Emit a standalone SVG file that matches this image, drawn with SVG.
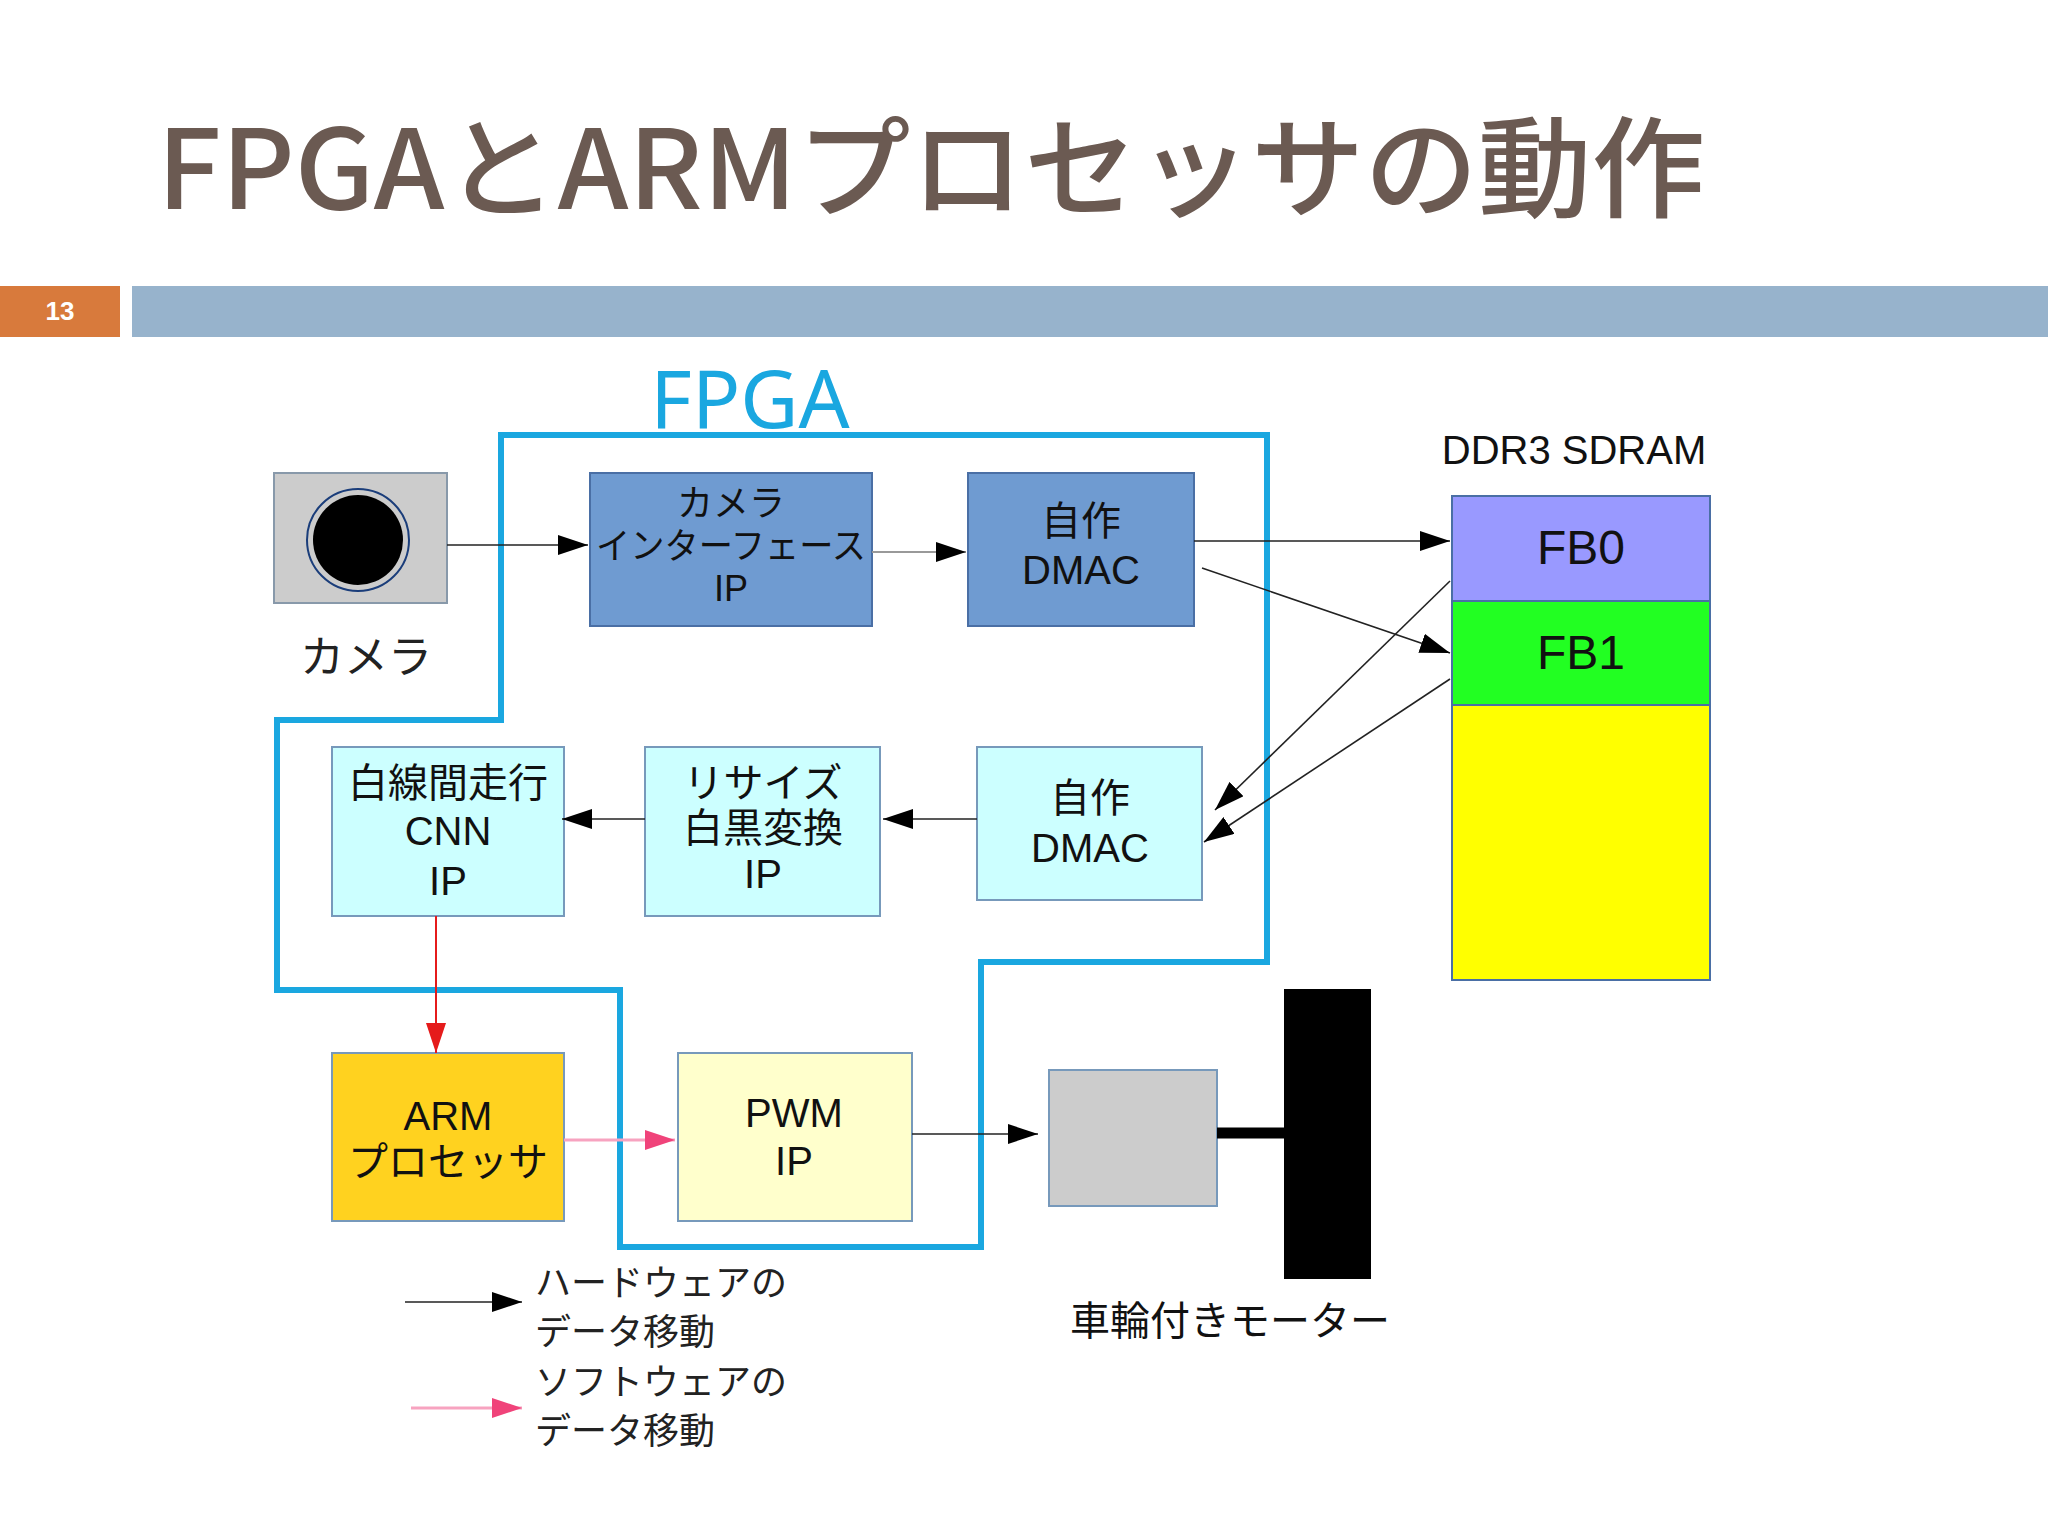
<svg xmlns="http://www.w3.org/2000/svg" width="2048" height="1536" viewBox="0 0 2048 1536">
<style>
.t{font-family:"Liberation Sans","Noto Sans CJK JP",sans-serif;text-anchor:middle;fill:#111}
.j{font-family:"Noto Sans CJK JP",sans-serif;fill:#222}
.c{stroke:#222;stroke-width:1.6;fill:none}
</style>
<defs>
<marker id="ab" markerWidth="30" markerHeight="20" refX="30" refY="10" orient="auto" markerUnits="userSpaceOnUse"><path d="M0,0 L30,10 L0,20 Z" fill="#000"/></marker>
<marker id="ar" markerWidth="30" markerHeight="20" refX="30" refY="10" orient="auto" markerUnits="userSpaceOnUse"><path d="M0,0 L30,10 L0,20 Z" fill="#e51b1b"/></marker>
<marker id="ap" markerWidth="30" markerHeight="20" refX="30" refY="10" orient="auto" markerUnits="userSpaceOnUse"><path d="M0,0 L30,10 L0,20 Z" fill="#f0437a"/></marker>
</defs>
<rect width="2048" height="1536" fill="#fff"/>
<text x="157" y="209" font-family="Noto Sans CJK JP,sans-serif" font-size="110" font-weight="500" fill="#6b5a52" textLength="1548" lengthAdjust="spacingAndGlyphs">FPGAとARMプロセッサの動作</text>
<rect x="0" y="286" width="120" height="51" fill="#d87a3c"/>
<text x="60" y="320" font-family="Liberation Sans,sans-serif" font-size="26" font-weight="bold" fill="#fff" text-anchor="middle">13</text>
<rect x="132" y="286" width="1916" height="51" fill="#97b3cc"/>
<text x="750" y="428" font-family="Noto Sans,sans-serif" font-size="80" fill="#1aa7e0" text-anchor="middle">FPGA</text>
<polygon points="501,435 1267,435 1267,962 981,962 981,1247 620,1247 620,990 277,990 277,720 501,720" fill="none" stroke="#1aa7e0" stroke-width="6"/>

<g id="camera">
<rect x="274" y="473" width="173" height="130" fill="#cccccc" stroke="#8899aa" stroke-width="2"/>
<circle cx="358" cy="540" r="51" fill="none" stroke="#1a3d7a" stroke-width="2"/>
<circle cx="358" cy="540" r="45" fill="#000"/>
<text class="j" x="300" y="673" font-size="44">カメラ</text>
</g>
<g id="camif">
<rect x="590" y="473" width="282" height="153" fill="#6f9bd1" stroke="#4a6fa5" stroke-width="2"/>
<text class="t" x="731" y="516" font-size="36">カメラ</text>
<text class="t" x="731" y="559" font-size="36" textLength="270" lengthAdjust="spacingAndGlyphs">インターフェース</text>
<text class="t" x="731" y="601" font-size="36">IP</text>
</g>
<g id="dmac1">
<rect x="968" y="473" width="226" height="153" fill="#6f9bd1" stroke="#4a6fa5" stroke-width="2"/>
<text class="t" x="1081" y="535" font-size="40">自作</text>
<text class="t" x="1081" y="584" font-size="40">DMAC</text>
</g>
<g id="ddr">
<text class="t" x="1574" y="464" font-size="40">DDR3 SDRAM</text>
<rect x="1452" y="496" width="258" height="105" fill="#9999ff" stroke="#4a6fa5" stroke-width="2"/>
<rect x="1452" y="601" width="258" height="104" fill="#22ff22" stroke="#4a6fa5" stroke-width="2"/>
<rect x="1452" y="705" width="258" height="275" fill="#ffff00" stroke="#4a6fa5" stroke-width="2"/>
<text class="t" x="1581" y="564" font-size="48">FB0</text>
<text class="t" x="1581" y="669" font-size="48">FB1</text>
</g>
<g id="cnn">
<rect x="332" y="747" width="232" height="169" fill="#ccffff" stroke="#7799bb" stroke-width="2"/>
<text class="t" x="448" y="797" font-size="40">白線間走行</text>
<text class="t" x="448" y="845" font-size="40">CNN</text>
<text class="t" x="448" y="895" font-size="40">IP</text>
</g>
<g id="resize">
<rect x="645" y="747" width="235" height="169" fill="#ccffff" stroke="#7799bb" stroke-width="2"/>
<text class="t" x="763" y="797" font-size="40">リサイズ</text>
<text class="t" x="763" y="842" font-size="40">白黒変換</text>
<text class="t" x="763" y="888" font-size="40">IP</text>
</g>
<g id="dmac2">
<rect x="977" y="747" width="225" height="153" fill="#ccffff" stroke="#7799bb" stroke-width="2"/>
<text class="t" x="1090" y="812" font-size="40">自作</text>
<text class="t" x="1090" y="862" font-size="40">DMAC</text>
</g>
<g id="arm">
<rect x="332" y="1053" width="232" height="168" fill="#ffd21f" stroke="#7799bb" stroke-width="2"/>
<text class="t" x="448" y="1130" font-size="40">ARM</text>
<text class="t" x="448" y="1176" font-size="40">プロセッサ</text>
</g>
<g id="pwm">
<rect x="678" y="1053" width="234" height="168" fill="#ffffcc" stroke="#7799bb" stroke-width="2"/>
<text class="t" x="794" y="1127" font-size="40">PWM</text>
<text class="t" x="794" y="1175" font-size="40">IP</text>
</g>
<g id="motor">
<rect x="1049" y="1070" width="168" height="136" fill="#cccccc" stroke="#7799bb" stroke-width="2"/>
<line x1="1217" y1="1133" x2="1284" y2="1133" stroke="#000" stroke-width="11"/>
<rect x="1284" y="989" width="87" height="290" fill="#000"/>
<text class="t" x="1230" y="1335" font-size="40">車輪付きモーター</text>
</g>
<g id="legend">
<text class="j" x="535" y="1296" font-size="36">ハードウェアの</text>
<text class="j" x="535" y="1345" font-size="36">データ移動</text>
<text class="j" x="535" y="1395" font-size="36">ソフトウェアの</text>
<text class="j" x="535" y="1444" font-size="36">データ移動</text>
</g>
<g id="connectors">
<line class="c" x1="447" y1="545" x2="588" y2="545" marker-end="url(#ab)"/>
<line x1="872" y1="552" x2="966" y2="552" stroke="#999" stroke-width="2" marker-end="url(#ab)"/>
<line class="c" x1="1194" y1="541" x2="1450" y2="541" marker-end="url(#ab)"/>
<line class="c" x1="1202" y1="568" x2="1450" y2="653" marker-end="url(#ab)"/>
<line class="c" x1="1450" y1="581" x2="1215" y2="810" marker-end="url(#ab)"/>
<line class="c" x1="1450" y1="679" x2="1204" y2="842" marker-end="url(#ab)"/>
<line class="c" x1="977" y1="819" x2="883" y2="819" marker-end="url(#ab)"/>
<line class="c" x1="645" y1="819" x2="562" y2="819" marker-end="url(#ab)"/>
<line x1="436" y1="916" x2="436" y2="1053" stroke="#e51b1b" stroke-width="2" marker-end="url(#ar)"/>
<line x1="564" y1="1140" x2="675" y2="1140" stroke="#f7a3c0" stroke-width="3" marker-end="url(#ap)"/>
<line class="c" x1="912" y1="1134" x2="1038" y2="1134" marker-end="url(#ab)"/>
<line class="c" x1="405" y1="1302" x2="522" y2="1302" marker-end="url(#ab)"/>
<line x1="411" y1="1408" x2="522" y2="1408" stroke="#f7a3c0" stroke-width="3" marker-end="url(#ap)"/>
</g>
</svg>
